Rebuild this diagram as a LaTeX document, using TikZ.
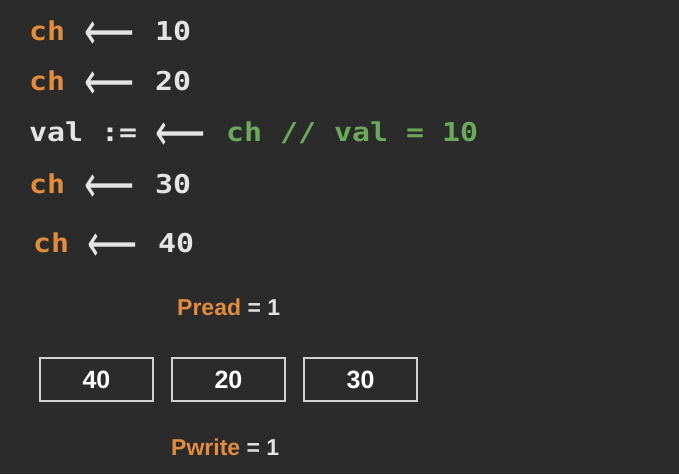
\documentclass[tikz,border=0pt]{standalone}
\usepackage{fontspec}
\setmainfont{Liberation Sans}
\newfontfamily\codefont[FakeStretch=1.15]{DejaVu Sans Mono}
\newfontfamily\arrowfont{DejaVu Sans}
\newcommand\larr{\scalebox{1}[1.5]{⟵}}
\definecolor{bgdark}{HTML}{2B2B2B}
\definecolor{chorange}{HTML}{E38C3D}
\definecolor{cmtgreen}{HTML}{6AAA5A}
\definecolor{txtwhite}{HTML}{E4E4E4}
\definecolor{boxline}{HTML}{D2D2D2}

\begin{document}
\begin{tikzpicture}[x=1pt,y=-1pt,
    code/.style={font=\codefont\bfseries\fontsize{26pt}{26pt}\selectfont,
        inner sep=0pt, anchor=base west, text=txtwhite},
    larrow/.style={font=\arrowfont\fontsize{35pt}{35pt}\selectfont,
        inner sep=0pt, anchor=base west, text=txtwhite},
    ptr/.style={font=\bfseries\fontsize{23pt}{23pt}\selectfont,
        inner sep=0pt, anchor=base west, text=txtwhite},
    cell/.style={draw=boxline, line width=2pt, minimum width=113pt,
        minimum height=43pt, inner sep=0pt, text=white,
        font=\bfseries\fontsize{25pt}{25pt}\selectfont}]
    \useasboundingbox[fill=bgdark] (0,0) rectangle (679,474);
    % sends on the channel
    \foreach \i/\y/\v in {1/40/10, 2/90/20, 4/193/30}{
        \node[code, text=chorange] (ch\i) at (29,\y) {ch};
        \node[larrow] (arr\i) at (84,\y+9) {\larr};
        \node[code] (val\i) at (155,\y) {\v};
    }
    \node[code, text=chorange] (ch5) at (33,252) {ch};
    \node[larrow] (arr5) at (87,261) {\larr};
    \node[code] (val5) at (158,252) {40};
    % receive
    \node[code] (recv) at (29,141) {val :=};
    \node[larrow] (arr3) at (155,150) {\larr};
    \node[code, text=cmtgreen] (cmt) at (226,141) {ch // val = 10};
    % buffer
    \node[ptr] (pread) at (177,315) {{\color{chorange}Pread} = 1};
    \foreach \v [count=\i] in {40,20,30}
        \node[cell] (cell\i) at ({96.5+132*(\i-1)},379.5) {\v};
    \node[ptr] (pwrite) at (171,455) {{\color{chorange}Pwrite} = 1};
\end{tikzpicture}
\end{document}
